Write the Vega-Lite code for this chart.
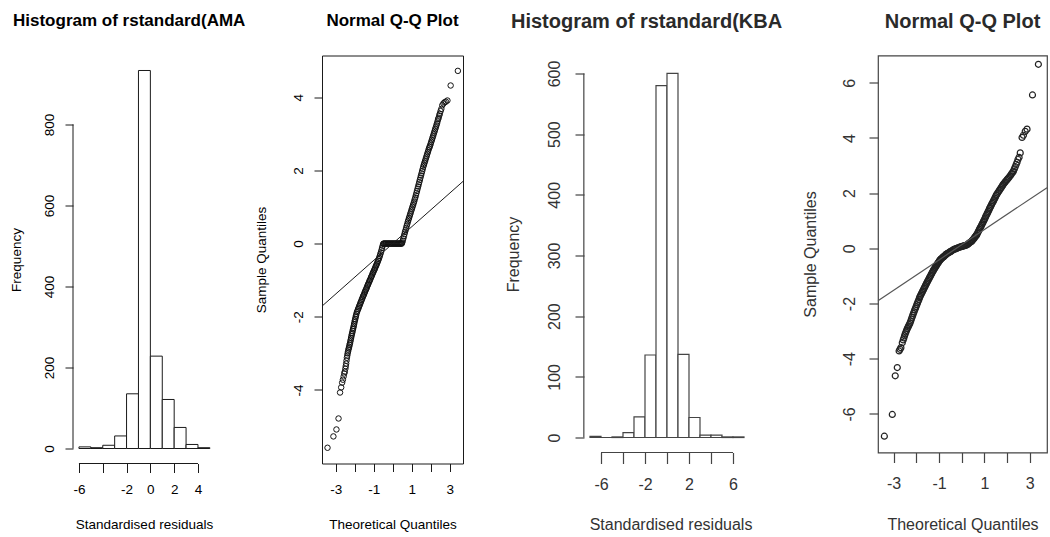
{
  "$schema": "https://vega.github.io/schema/vega-lite/v6.json",
  "background": "white",
  "padding": {"left": 9, "top": 10.5, "right": 0, "bottom": 0},
  "autosize": {"type": "pad"},
  "bounds": "flush",
  "spacing": 107,
  "datasets": {
    "hist_ama": [
      {"bin_start": -6, "bin_end": -5, "count": 4},
      {"bin_start": -5, "bin_end": -4, "count": 2},
      {"bin_start": -4, "bin_end": -3, "count": 8},
      {"bin_start": -3, "bin_end": -2, "count": 31},
      {"bin_start": -2, "bin_end": -1, "count": 135},
      {"bin_start": -1, "bin_end": 0, "count": 933},
      {"bin_start": 0, "bin_end": 1, "count": 228},
      {"bin_start": 1, "bin_end": 2, "count": 121},
      {"bin_start": 2, "bin_end": 3, "count": 52},
      {"bin_start": 3, "bin_end": 4, "count": 10},
      {"bin_start": 4, "bin_end": 5, "count": 2}
    ],
    "hist_kba": [
      {"bin_start": -7, "bin_end": -6, "count": 2},
      {"bin_start": -6, "bin_end": -5, "count": 0},
      {"bin_start": -5, "bin_end": -4, "count": 1},
      {"bin_start": -4, "bin_end": -3, "count": 8},
      {"bin_start": -3, "bin_end": -2, "count": 34},
      {"bin_start": -2, "bin_end": -1, "count": 136},
      {"bin_start": -1, "bin_end": 0, "count": 580},
      {"bin_start": 0, "bin_end": 1, "count": 600},
      {"bin_start": 1, "bin_end": 2, "count": 137},
      {"bin_start": 2, "bin_end": 3, "count": 33},
      {"bin_start": 3, "bin_end": 4, "count": 4},
      {"bin_start": 4, "bin_end": 5, "count": 4},
      {"bin_start": 5, "bin_end": 6, "count": 1},
      {"bin_start": 6, "bin_end": 7, "count": 1}
    ],
    "qq_ama": [
      {"theoretical": -3.43, "sample": -5.58}, {"theoretical": -3.12, "sample": -5.27}, {"theoretical": -2.96, "sample": -5.08}, {"theoretical": -2.85, "sample": -4.78},
      {"theoretical": -2.77, "sample": -4.07}, {"theoretical": -2.71, "sample": -3.93}, {"theoretical": -2.66, "sample": -3.8}, {"theoretical": -2.62, "sample": -3.72},
      {"theoretical": -2.58, "sample": -3.63}, {"theoretical": -2.55, "sample": -3.55}, {"theoretical": -2.52, "sample": -3.5}, {"theoretical": -2.49, "sample": -3.42},
      {"theoretical": -2.47, "sample": -3.35}, {"theoretical": -2.45, "sample": -3.28}, {"theoretical": -2.43, "sample": -3.2}, {"theoretical": -2.41, "sample": -3.12},
      {"theoretical": -2.39, "sample": -3.06}, {"theoretical": -2.37, "sample": -3.0}, {"theoretical": -2.35, "sample": -2.95}, {"theoretical": -2.33, "sample": -2.9},
      {"theoretical": -2.31, "sample": -2.86}, {"theoretical": -2.29, "sample": -2.82}, {"theoretical": -2.27, "sample": -2.77}, {"theoretical": -2.25, "sample": -2.73},
      {"theoretical": -2.23, "sample": -2.68}, {"theoretical": -2.21, "sample": -2.63}, {"theoretical": -2.19, "sample": -2.58}, {"theoretical": -2.17, "sample": -2.53},
      {"theoretical": -2.15, "sample": -2.48}, {"theoretical": -2.13, "sample": -2.44}, {"theoretical": -2.11, "sample": -2.39}, {"theoretical": -2.09, "sample": -2.34},
      {"theoretical": -2.07, "sample": -2.3}, {"theoretical": -2.05, "sample": -2.25}, {"theoretical": -2.03, "sample": -2.2}, {"theoretical": -2.01, "sample": -2.15},
      {"theoretical": -1.99, "sample": -2.1}, {"theoretical": -1.97, "sample": -2.06}, {"theoretical": -1.95, "sample": -2.01}, {"theoretical": -1.93, "sample": -1.97},
      {"theoretical": -1.91, "sample": -1.92}, {"theoretical": -1.88, "sample": -1.87}, {"theoretical": -1.85, "sample": -1.83}, {"theoretical": -1.82, "sample": -1.79},
      {"theoretical": -1.79, "sample": -1.75}, {"theoretical": -1.76, "sample": -1.71}, {"theoretical": -1.73, "sample": -1.67}, {"theoretical": -1.7, "sample": -1.63},
      {"theoretical": -1.67, "sample": -1.59}, {"theoretical": -1.64, "sample": -1.55}, {"theoretical": -1.61, "sample": -1.51}, {"theoretical": -1.58, "sample": -1.47},
      {"theoretical": -1.55, "sample": -1.43}, {"theoretical": -1.52, "sample": -1.4}, {"theoretical": -1.49, "sample": -1.36}, {"theoretical": -1.46, "sample": -1.32},
      {"theoretical": -1.43, "sample": -1.28}, {"theoretical": -1.4, "sample": -1.25}, {"theoretical": -1.37, "sample": -1.21}, {"theoretical": -1.34, "sample": -1.17},
      {"theoretical": -1.31, "sample": -1.13}, {"theoretical": -1.28, "sample": -1.1}, {"theoretical": -1.25, "sample": -1.06}, {"theoretical": -1.22, "sample": -1.02},
      {"theoretical": -1.19, "sample": -0.99}, {"theoretical": -1.16, "sample": -0.95}, {"theoretical": -1.13, "sample": -0.91}, {"theoretical": -1.1, "sample": -0.88},
      {"theoretical": -1.07, "sample": -0.84}, {"theoretical": -1.04, "sample": -0.8}, {"theoretical": -1.01, "sample": -0.77}, {"theoretical": -0.98, "sample": -0.73},
      {"theoretical": -0.95, "sample": -0.7}, {"theoretical": -0.92, "sample": -0.66}, {"theoretical": -0.89, "sample": -0.62}, {"theoretical": -0.86, "sample": -0.59},
      {"theoretical": -0.83, "sample": -0.55}, {"theoretical": -0.8, "sample": -0.51}, {"theoretical": -0.77, "sample": -0.47}, {"theoretical": -0.74, "sample": -0.43},
      {"theoretical": -0.71, "sample": -0.39}, {"theoretical": -0.68, "sample": -0.34}, {"theoretical": -0.65, "sample": -0.29}, {"theoretical": -0.62, "sample": -0.24},
      {"theoretical": -0.59, "sample": -0.18}, {"theoretical": -0.56, "sample": -0.12}, {"theoretical": -0.53, "sample": -0.06}, {"theoretical": -0.5, "sample": -0.01},
      {"theoretical": -0.48, "sample": 0}, {"theoretical": -0.44, "sample": 0}, {"theoretical": -0.4, "sample": 0}, {"theoretical": -0.36, "sample": 0},
      {"theoretical": -0.32, "sample": 0}, {"theoretical": -0.28, "sample": 0}, {"theoretical": -0.24, "sample": 0}, {"theoretical": -0.2, "sample": 0},
      {"theoretical": -0.16, "sample": 0}, {"theoretical": -0.12, "sample": 0}, {"theoretical": -0.08, "sample": 0}, {"theoretical": -0.04, "sample": 0},
      {"theoretical": 0, "sample": 0}, {"theoretical": 0.04, "sample": 0}, {"theoretical": 0.08, "sample": 0}, {"theoretical": 0.12, "sample": 0},
      {"theoretical": 0.16, "sample": 0}, {"theoretical": 0.2, "sample": 0}, {"theoretical": 0.24, "sample": 0}, {"theoretical": 0.28, "sample": 0},
      {"theoretical": 0.32, "sample": 0}, {"theoretical": 0.36, "sample": 0}, {"theoretical": 0.4, "sample": 0}, {"theoretical": 0.44, "sample": 0},
      {"theoretical": 0.48, "sample": 0},
      {"theoretical": 0.5, "sample": 0.03}, {"theoretical": 0.53, "sample": 0.08}, {"theoretical": 0.56, "sample": 0.14}, {"theoretical": 0.59, "sample": 0.2},
      {"theoretical": 0.62, "sample": 0.26}, {"theoretical": 0.65, "sample": 0.32}, {"theoretical": 0.68, "sample": 0.37}, {"theoretical": 0.71, "sample": 0.43},
      {"theoretical": 0.74, "sample": 0.49}, {"theoretical": 0.77, "sample": 0.54}, {"theoretical": 0.8, "sample": 0.6}, {"theoretical": 0.83, "sample": 0.65},
      {"theoretical": 0.86, "sample": 0.7}, {"theoretical": 0.89, "sample": 0.75}, {"theoretical": 0.92, "sample": 0.8}, {"theoretical": 0.95, "sample": 0.85},
      {"theoretical": 0.98, "sample": 0.9}, {"theoretical": 1.01, "sample": 0.95}, {"theoretical": 1.04, "sample": 1.0}, {"theoretical": 1.07, "sample": 1.05},
      {"theoretical": 1.1, "sample": 1.1}, {"theoretical": 1.13, "sample": 1.15}, {"theoretical": 1.16, "sample": 1.21}, {"theoretical": 1.19, "sample": 1.26},
      {"theoretical": 1.22, "sample": 1.32}, {"theoretical": 1.25, "sample": 1.38}, {"theoretical": 1.28, "sample": 1.44}, {"theoretical": 1.31, "sample": 1.5},
      {"theoretical": 1.34, "sample": 1.56}, {"theoretical": 1.37, "sample": 1.62}, {"theoretical": 1.4, "sample": 1.68}, {"theoretical": 1.43, "sample": 1.74},
      {"theoretical": 1.46, "sample": 1.8}, {"theoretical": 1.49, "sample": 1.86}, {"theoretical": 1.52, "sample": 1.92}, {"theoretical": 1.55, "sample": 1.98},
      {"theoretical": 1.58, "sample": 2.04}, {"theoretical": 1.61, "sample": 2.1}, {"theoretical": 1.64, "sample": 2.15}, {"theoretical": 1.67, "sample": 2.2},
      {"theoretical": 1.7, "sample": 2.25}, {"theoretical": 1.73, "sample": 2.3}, {"theoretical": 1.76, "sample": 2.35}, {"theoretical": 1.79, "sample": 2.4},
      {"theoretical": 1.82, "sample": 2.45}, {"theoretical": 1.85, "sample": 2.5}, {"theoretical": 1.88, "sample": 2.55}, {"theoretical": 1.91, "sample": 2.6},
      {"theoretical": 1.94, "sample": 2.64}, {"theoretical": 1.97, "sample": 2.68}, {"theoretical": 2.0, "sample": 2.73}, {"theoretical": 2.03, "sample": 2.78},
      {"theoretical": 2.06, "sample": 2.83}, {"theoretical": 2.09, "sample": 2.88}, {"theoretical": 2.12, "sample": 2.93}, {"theoretical": 2.15, "sample": 2.98},
      {"theoretical": 2.18, "sample": 3.03}, {"theoretical": 2.21, "sample": 3.08}, {"theoretical": 2.24, "sample": 3.13}, {"theoretical": 2.27, "sample": 3.18},
      {"theoretical": 2.3, "sample": 3.23}, {"theoretical": 2.33, "sample": 3.28}, {"theoretical": 2.36, "sample": 3.34}, {"theoretical": 2.39, "sample": 3.4},
      {"theoretical": 2.42, "sample": 3.44}, {"theoretical": 2.45, "sample": 3.5}, {"theoretical": 2.48, "sample": 3.55}, {"theoretical": 2.52, "sample": 3.62},
      {"theoretical": 2.56, "sample": 3.68}, {"theoretical": 2.61, "sample": 3.78}, {"theoretical": 2.67, "sample": 3.83}, {"theoretical": 2.73, "sample": 3.86},
      {"theoretical": 2.8, "sample": 3.88}, {"theoretical": 2.88, "sample": 3.91}, {"theoretical": 3.05, "sample": 4.32}, {"theoretical": 3.43, "sample": 4.72}
    ],
    "qq_kba": [
      {"theoretical": -3.41, "sample": -6.81}, {"theoretical": -3.06, "sample": -6.02}, {"theoretical": -2.93, "sample": -4.62}, {"theoretical": -2.84, "sample": -4.32},
      {"theoretical": -2.76, "sample": -3.72}, {"theoretical": -2.72, "sample": -3.66}, {"theoretical": -2.68, "sample": -3.6}, {"theoretical": -2.62, "sample": -3.42},
      {"theoretical": -2.58, "sample": -3.32}, {"theoretical": -2.55, "sample": -3.25}, {"theoretical": -2.52, "sample": -3.17}, {"theoretical": -2.49, "sample": -3.1},
      {"theoretical": -2.46, "sample": -3.03}, {"theoretical": -2.43, "sample": -2.97}, {"theoretical": -2.4, "sample": -2.91},
      {"theoretical": -2.37, "sample": -2.86}, {"theoretical": -2.34, "sample": -2.81}, {"theoretical": -2.31, "sample": -2.76}, {"theoretical": -2.28, "sample": -2.71},
      {"theoretical": -2.25, "sample": -2.64}, {"theoretical": -2.22, "sample": -2.57}, {"theoretical": -2.19, "sample": -2.5}, {"theoretical": -2.16, "sample": -2.43},
      {"theoretical": -2.13, "sample": -2.36}, {"theoretical": -2.1, "sample": -2.3}, {"theoretical": -2.07, "sample": -2.23}, {"theoretical": -2.04, "sample": -2.17},
      {"theoretical": -2.01, "sample": -2.11}, {"theoretical": -1.98, "sample": -2.04}, {"theoretical": -1.95, "sample": -1.98}, {"theoretical": -1.92, "sample": -1.92},
      {"theoretical": -1.89, "sample": -1.86}, {"theoretical": -1.86, "sample": -1.79}, {"theoretical": -1.84, "sample": -1.75}, {"theoretical": -1.81, "sample": -1.7},
      {"theoretical": -1.78, "sample": -1.65}, {"theoretical": -1.75, "sample": -1.6}, {"theoretical": -1.72, "sample": -1.55}, {"theoretical": -1.69, "sample": -1.5},
      {"theoretical": -1.66, "sample": -1.45}, {"theoretical": -1.63, "sample": -1.4}, {"theoretical": -1.6, "sample": -1.35}, {"theoretical": -1.57, "sample": -1.3},
      {"theoretical": -1.54, "sample": -1.25}, {"theoretical": -1.51, "sample": -1.2}, {"theoretical": -1.48, "sample": -1.16}, {"theoretical": -1.45, "sample": -1.11},
      {"theoretical": -1.42, "sample": -1.06}, {"theoretical": -1.39, "sample": -1.02}, {"theoretical": -1.36, "sample": -0.97}, {"theoretical": -1.33, "sample": -0.92},
      {"theoretical": -1.3, "sample": -0.88}, {"theoretical": -1.27, "sample": -0.83}, {"theoretical": -1.25, "sample": -0.8}, {"theoretical": -1.22, "sample": -0.76},
      {"theoretical": -1.19, "sample": -0.72}, {"theoretical": -1.16, "sample": -0.68}, {"theoretical": -1.13, "sample": -0.64}, {"theoretical": -1.1, "sample": -0.6},
      {"theoretical": -1.07, "sample": -0.56}, {"theoretical": -1.04, "sample": -0.52}, {"theoretical": -1.01, "sample": -0.49}, {"theoretical": -0.98, "sample": -0.45},
      {"theoretical": -0.96, "sample": -0.42}, {"theoretical": -0.93, "sample": -0.4}, {"theoretical": -0.9, "sample": -0.38}, {"theoretical": -0.87, "sample": -0.35},
      {"theoretical": -0.84, "sample": -0.33}, {"theoretical": -0.81, "sample": -0.31}, {"theoretical": -0.78, "sample": -0.29}, {"theoretical": -0.75, "sample": -0.27},
      {"theoretical": -0.72, "sample": -0.24}, {"theoretical": -0.69, "sample": -0.22}, {"theoretical": -0.66, "sample": -0.2}, {"theoretical": -0.62, "sample": -0.18},
      {"theoretical": -0.58, "sample": -0.16}, {"theoretical": -0.54, "sample": -0.14}, {"theoretical": -0.5, "sample": -0.12}, {"theoretical": -0.46, "sample": -0.1},
      {"theoretical": -0.42, "sample": -0.08}, {"theoretical": -0.37, "sample": -0.05}, {"theoretical": -0.32, "sample": -0.03}, {"theoretical": -0.27, "sample": -0.02},
      {"theoretical": -0.22, "sample": 0.0}, {"theoretical": -0.17, "sample": 0.02}, {"theoretical": -0.12, "sample": 0.03}, {"theoretical": -0.07, "sample": 0.05},
      {"theoretical": -0.02, "sample": 0.06}, {"theoretical": 0.03, "sample": 0.07}, {"theoretical": 0.08, "sample": 0.09}, {"theoretical": 0.13, "sample": 0.1},
      {"theoretical": 0.18, "sample": 0.11}, {"theoretical": 0.22, "sample": 0.12}, {"theoretical": 0.26, "sample": 0.14}, {"theoretical": 0.3, "sample": 0.17},
      {"theoretical": 0.34, "sample": 0.2}, {"theoretical": 0.38, "sample": 0.22}, {"theoretical": 0.41, "sample": 0.24}, {"theoretical": 0.44, "sample": 0.26},
      {"theoretical": 0.47, "sample": 0.29}, {"theoretical": 0.5, "sample": 0.32}, {"theoretical": 0.53, "sample": 0.35}, {"theoretical": 0.56, "sample": 0.38},
      {"theoretical": 0.59, "sample": 0.42}, {"theoretical": 0.62, "sample": 0.45}, {"theoretical": 0.64, "sample": 0.47}, {"theoretical": 0.66, "sample": 0.49},
      {"theoretical": 0.69, "sample": 0.54}, {"theoretical": 0.72, "sample": 0.59}, {"theoretical": 0.75, "sample": 0.64}, {"theoretical": 0.78, "sample": 0.69},
      {"theoretical": 0.81, "sample": 0.74}, {"theoretical": 0.84, "sample": 0.78}, {"theoretical": 0.87, "sample": 0.83}, {"theoretical": 0.9, "sample": 0.88},
      {"theoretical": 0.93, "sample": 0.93}, {"theoretical": 0.96, "sample": 0.98}, {"theoretical": 0.99, "sample": 1.03}, {"theoretical": 1.02, "sample": 1.08},
      {"theoretical": 1.05, "sample": 1.14}, {"theoretical": 1.08, "sample": 1.19}, {"theoretical": 1.11, "sample": 1.24}, {"theoretical": 1.14, "sample": 1.29},
      {"theoretical": 1.17, "sample": 1.34}, {"theoretical": 1.2, "sample": 1.39}, {"theoretical": 1.23, "sample": 1.45}, {"theoretical": 1.25, "sample": 1.48},
      {"theoretical": 1.28, "sample": 1.53}, {"theoretical": 1.31, "sample": 1.58}, {"theoretical": 1.34, "sample": 1.63}, {"theoretical": 1.37, "sample": 1.67},
      {"theoretical": 1.4, "sample": 1.72}, {"theoretical": 1.43, "sample": 1.77}, {"theoretical": 1.46, "sample": 1.82}, {"theoretical": 1.49, "sample": 1.87},
      {"theoretical": 1.52, "sample": 1.92}, {"theoretical": 1.54, "sample": 1.95}, {"theoretical": 1.58, "sample": 2.0}, {"theoretical": 1.62, "sample": 2.05},
      {"theoretical": 1.66, "sample": 2.1}, {"theoretical": 1.7, "sample": 2.15}, {"theoretical": 1.74, "sample": 2.2}, {"theoretical": 1.78, "sample": 2.25},
      {"theoretical": 1.81, "sample": 2.29}, {"theoretical": 1.84, "sample": 2.33}, {"theoretical": 1.88, "sample": 2.37}, {"theoretical": 1.92, "sample": 2.41},
      {"theoretical": 1.96, "sample": 2.45}, {"theoretical": 2.0, "sample": 2.49}, {"theoretical": 2.04, "sample": 2.53}, {"theoretical": 2.08, "sample": 2.57},
      {"theoretical": 2.13, "sample": 2.62}, {"theoretical": 2.17, "sample": 2.67}, {"theoretical": 2.21, "sample": 2.72}, {"theoretical": 2.25, "sample": 2.76},
      {"theoretical": 2.28, "sample": 2.8}, {"theoretical": 2.32, "sample": 2.88}, {"theoretical": 2.36, "sample": 2.96}, {"theoretical": 2.4, "sample": 3.04},
      {"theoretical": 2.44, "sample": 3.12}, {"theoretical": 2.48, "sample": 3.22}, {"theoretical": 2.53, "sample": 3.3}, {"theoretical": 2.58, "sample": 3.46},
      {"theoretical": 2.66, "sample": 4.02}, {"theoretical": 2.72, "sample": 4.1}, {"theoretical": 2.8, "sample": 4.24}, {"theoretical": 2.88, "sample": 4.32},
      {"theoretical": 3.12, "sample": 5.56}, {"theoretical": 3.38, "sample": 6.67}
    ]
  },
  "hconcat": [
    {
      "width": 142,
      "height": 408,
      "title": {"text": "Histogram of rstandard(AMA", "anchor": "start", "dx": -60, "fontSize": 17, "offset": 26, "color": "#000000"},
      "layer": [
        {
          "data": {"name": "hist_ama"},
          "mark": {"type": "rect", "fill": "#ffffff", "stroke": "#1a1a1a", "strokeWidth": 1},
          "encoding": {
            "x": {"field": "bin_start", "type": "quantitative",
              "scale": {"domain": [-6.5, 5.43], "nice": false, "zero": false},
              "axis": {"values": [-6, -4, -2, 0, 2, 4], "tickCount": 30, "labelOverlap": false, "labelExpr": "datum.value == -4 ? '' : (datum.value < 0 ? '-' + (-datum.value) : '' + datum.value)",
                "title": "Standardised residuals", "tickSize": 9, "tickColor": "#1a1a1a", "labelPadding": 10, "labelFontSize": 13.5, "labelColor": "#000000",
                "titleFontSize": 13.5, "titleColor": "#000000", "titlePadding": 14, "minExtent": 40, "maxExtent": 40}},
            "x2": {"field": "bin_end"},
            "y": {"field": "count", "type": "quantitative",
              "scale": {"domain": [-37, 970], "nice": false, "zero": false},
              "axis": {"values": [0, 200, 400, 600, 800], "tickCount": 30, "labelOverlap": false, "title": "Frequency", "tickSize": 8, "tickColor": "#1a1a1a", "labelPadding": 9, "labelFontSize": 13.5, "labelColor": "#000000",
                "titleFontSize": 13.5, "titleColor": "#000000", "titlePadding": 12, "minExtent": 38, "maxExtent": 38}},
            "y2": {"datum": 0}
          }
        },
        {
          "data": {"values": [{}]},
          "mark": {"type": "rule", "stroke": "#1a1a1a", "strokeWidth": 1},
          "encoding": {"x": {"datum": -6}, "x2": {"datum": 4}, "y": {"datum": -37}}
        },
        {
          "data": {"values": [{}]},
          "mark": {"type": "rule", "stroke": "#1a1a1a", "strokeWidth": 1},
          "encoding": {"x": {"datum": -6.5}, "y": {"datum": 0}, "y2": {"datum": 800}}
        }
      ]
    },
    {
      "width": 141,
      "height": 408,
      "view": {"stroke": "#1a1a1a", "strokeWidth": 1},
      "title": {"text": "Normal Q-Q Plot", "anchor": "middle", "fontSize": 17, "offset": 26, "color": "#000000"},
      "layer": [
        {
          "data": {"name": "qq_ama"},
          "mark": {"type": "point", "shape": "circle", "filled": false, "size": 30, "stroke": "#111111", "strokeWidth": 1, "opacity": 1},
          "encoding": {
            "x": {"field": "theoretical", "type": "quantitative",
              "scale": {"domain": [-3.72, 3.7], "nice": false, "zero": false},
              "axis": {"values": [-3, -2, -1, 0, 1, 2, 3], "tickCount": 30, "labelOverlap": false, "labelExpr": "datum.value % 2 == 0 ? '' : (datum.value < 0 ? '-' + (-datum.value) : '' + datum.value)",
                "title": "Theoretical Quantiles", "tickSize": 8, "tickColor": "#1a1a1a", "labelPadding": 11, "labelFontSize": 13.5, "labelColor": "#000000",
                "titleFontSize": 13.5, "titleColor": "#000000", "titlePadding": 14, "minExtent": 40, "maxExtent": 40}},
            "y": {"field": "sample", "type": "quantitative",
              "scale": {"domain": [-6.01, 5.14], "nice": false, "zero": false},
              "axis": {"values": [-4, -2, 0, 2, 4], "tickCount": 30, "labelOverlap": false, "labelExpr": "datum.value < 0 ? '-' + (-datum.value) : '' + datum.value",
                "title": "Sample Quantiles", "tickSize": 8, "tickColor": "#1a1a1a", "labelPadding": 9, "labelFontSize": 13.5, "labelColor": "#000000",
                "titleFontSize": 13.5, "titleColor": "#000000", "titlePadding": 16, "minExtent": 38, "maxExtent": 38}}
          }
        },
        {
          "data": {"values": [{}]},
          "mark": {"type": "rule", "stroke": "#1a1a1a", "strokeWidth": 1},
          "encoding": {"x": {"datum": -3.72}, "y": {"datum": -1.71}, "x2": {"datum": 3.7}, "y2": {"datum": 1.7}}
        }
      ]
    },
    {
      "width": 201,
      "height": 397,
      "title": {"text": "Histogram of rstandard(KBA", "anchor": "start", "dx": -59, "fontSize": 20, "offset": 23.5, "color": "#2a2a2a"},
      "layer": [
        {
          "data": {"name": "hist_kba"},
          "mark": {"type": "rect", "fill": "#ffffff", "stroke": "#444444", "strokeWidth": 1.2},
          "encoding": {
            "x": {"field": "bin_start", "type": "quantitative",
              "scale": {"domain": [-8.818, 9.455], "nice": false, "zero": false},
              "axis": {"values": [-6, -4, -2, 0, 2, 4, 6], "tickCount": 30, "labelOverlap": false, "labelExpr": "datum.value % 4 == 0 ? '' : (datum.value < 0 ? '-' + (-datum.value) : '' + datum.value)",
                "title": "Standardised residuals", "tickSize": 11, "tickColor": "#444444", "tickWidth": 1.2, "labelPadding": 13, "labelFontSize": 16, "labelColor": "#333333",
                "titleFontSize": 16, "titleColor": "#333333", "titlePadding": 15.5, "minExtent": 48, "maxExtent": 48}},
            "x2": {"field": "bin_end"},
            "y": {"field": "count", "type": "quantitative",
              "scale": {"domain": [-24.7, 629.6], "nice": false, "zero": false},
              "axis": {"values": [0, 100, 200, 300, 400, 500, 600], "tickCount": 30, "labelOverlap": false, "offset": -14, "title": "Frequency", "tickSize": 9, "tickColor": "#444444", "tickWidth": 1.2, "labelPadding": 13,
                "labelFontSize": 16, "labelColor": "#333333", "titleFontSize": 16, "titleColor": "#333333", "titlePadding": 15, "minExtent": 48, "maxExtent": 48}},
            "y2": {"datum": 0}
          }
        },
        {
          "data": {"values": [{}]},
          "mark": {"type": "rule", "stroke": "#444444", "strokeWidth": 1.2},
          "encoding": {"x": {"datum": -6}, "x2": {"datum": 6}, "y": {"datum": -24.7}}
        },
        {
          "data": {"values": [{}]},
          "mark": {"type": "rule", "stroke": "#444444", "strokeWidth": 1.2},
          "encoding": {"x": {"datum": -7.56}, "y": {"datum": 0}, "y2": {"datum": 600}}
        }
      ]
    },
    {
      "width": 169,
      "height": 397,
      "view": {"stroke": "#444444", "strokeWidth": 1.2},
      "title": {"text": "Normal Q-Q Plot", "anchor": "middle", "fontSize": 20, "offset": 23.5, "color": "#2a2a2a"},
      "layer": [
        {
          "data": {"name": "qq_kba"},
          "mark": {"type": "point", "shape": "circle", "filled": false, "size": 36, "stroke": "#222222", "strokeWidth": 1.2, "opacity": 1},
          "encoding": {
            "x": {"field": "theoretical", "type": "quantitative",
              "scale": {"domain": [-3.69, 3.76], "nice": false, "zero": false},
              "axis": {"values": [-3, -2, -1, 0, 1, 2, 3], "tickCount": 30, "labelOverlap": false, "labelExpr": "datum.value % 2 == 0 ? '' : (datum.value < 0 ? '-' + (-datum.value) : '' + datum.value)",
                "title": "Theoretical Quantiles", "tickSize": 10, "tickColor": "#444444", "tickWidth": 1.2, "labelPadding": 13, "labelFontSize": 16, "labelColor": "#333333",
                "titleFontSize": 16, "titleColor": "#333333", "titlePadding": 15.5, "minExtent": 48, "maxExtent": 48}},
            "y": {"field": "sample", "type": "quantitative",
              "scale": {"domain": [-7.4, 6.99], "nice": false, "zero": false},
              "axis": {"values": [-6, -4, -2, 0, 2, 4, 6], "tickCount": 30, "labelOverlap": false, "labelExpr": "datum.value < 0 ? '-' + (-datum.value) : '' + datum.value",
                "title": "Sample Quantiles", "tickSize": 9, "tickColor": "#444444", "tickWidth": 1.2, "labelPadding": 12, "labelFontSize": 16, "labelColor": "#333333",
                "titleFontSize": 16, "titleColor": "#333333", "titlePadding": 12, "minExtent": 48, "maxExtent": 48}}
          }
        },
        {
          "data": {"values": [{}]},
          "mark": {"type": "rule", "stroke": "#555555", "strokeWidth": 1.2},
          "encoding": {"x": {"datum": -3.69}, "y": {"datum": -1.9}, "x2": {"datum": 3.76}, "y2": {"datum": 2.2}}
        }
      ]
    }
  ],
  "config": {
    "view": {"stroke": null},
    "font": "Liberation Sans",
    "axis": {"grid": false, "domain": false, "labelFont": "Liberation Sans", "titleFont": "Liberation Sans", "titleFontWeight": "normal",
      "labelOverlap": false, "labelFlush": false, "labelBound": false, "tickCount": 30},
    "axisY": {"labelAngle": 270, "labelAlign": "center", "labelBaseline": "bottom", "titleAngle": 270, "titleBaseline": "bottom"},
    "title": {"font": "Liberation Sans", "fontWeight": "bold", "baseline": "bottom", "frame": "group"}
  }
}
